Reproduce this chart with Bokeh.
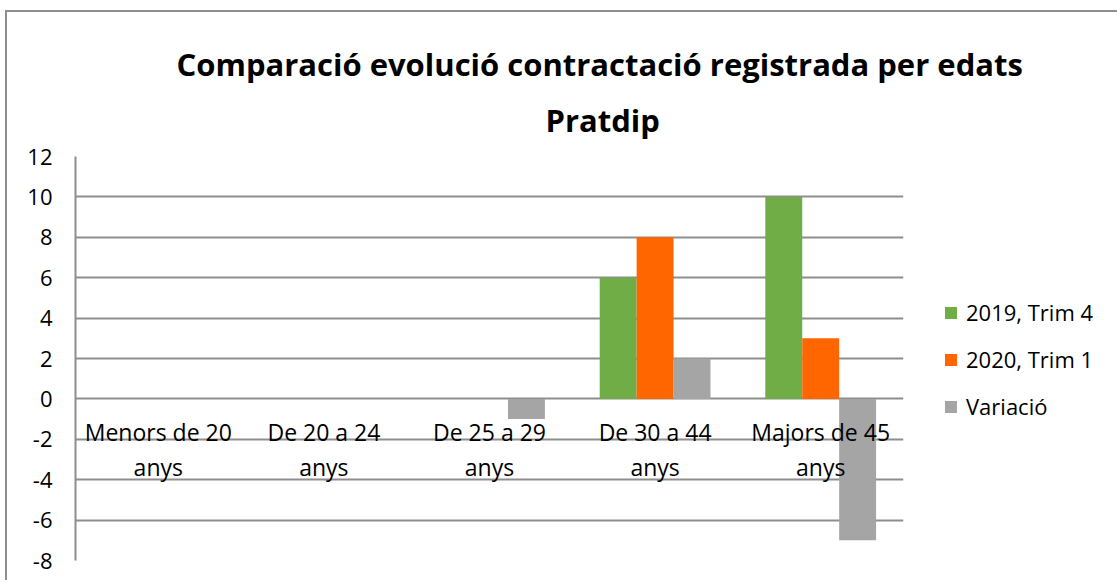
from bokeh.plotting import figure
from bokeh.models import (ColumnDataSource, FactorRange, Legend, LegendItem, Range1d,
                          FixedTicker, PrintfTickFormatter, Title)
from bokeh.transform import dodge
from bokeh.core.properties import value
from bokeh.embed import file_html
from bokeh.resources import INLINE

categories = ["Menors de 20 anys", "De 20 a 24 anys", "De 25 a 29 anys",
              "De 30 a 44 anys", "Majors de 45 anys"]
category_labels = ["Menors de 20\nanys", "De 20 a 24\nanys", "De 25 a 29\nanys",
                   "De 30 a 44\nanys", "Majors de 45\nanys"]
series_names = ["2019, Trim 4", "2020, Trim 1", "Variació"]
trim4_2019 = [0, 0, 0, 6, 10]
trim1_2020 = [0, 0, 0, 8, 3]
variacio = [0, 0, -1, 2, -7]
y_ticks = [-8, -6, -4, -2, 0, 2, 4, 6, 8, 10, 12]
title_line1 = "Comparació evolució contractació registrada per edats"
title_line2 = "Pratdip"

colors = ["#70AD47", "#FF6600", "#A5A5A5"]
FONT = "Open Sans"
GRID = "#8E8E8E"

src = ColumnDataSource(dict(cat=categories, label=category_labels,
                            s0=trim4_2019, s1=trim1_2020, s2=variacio,
                            zero=[0] * len(categories)))

p = figure(frame_width=828, frame_height=404, x_range=FactorRange(*categories),
           y_range=Range1d(-8, 12), output_backend="svg", toolbar_location=None,
           min_border_left=68, min_border_right=212, min_border_top=144, min_border_bottom=20)

# first title line (top)
p.title.text = title_line1
p.title.align = "left"
p.title.offset = 101
p.title.text_font = FONT
p.title.text_font_size = "31px"
p.title.text_font_style = "bold"
p.title.text_color = "#000000"
p.title.vertical_align = "bottom"
p.title.standoff = 0

# second title line (closest to the plot)
t2 = Title(text=title_line2, align="left", offset=470, text_font=FONT,
           text_font_size="31px", text_font_style="bold", text_color="#000000",
           vertical_align="top", standoff=28)
p.add_layout(t2, "above")

width = 0.223
items = []
for i, (col, name) in enumerate(zip(["s0", "s1", "s2"], series_names)):
    r = p.vbar(x=dodge("cat", (i - 1) * width, range=p.x_range), top=col, bottom=0,
               width=width, source=src, fill_color=colors[i], line_color=None)
    items.append(LegendItem(label=name, renderers=[r]))

p.text(x="cat", y="zero", text="label", source=src, text_align="center",
       text_baseline="middle", y_offset=51, text_font=value(FONT),
       text_font_size="23px", text_color="#000000", text_line_height=1.1)

p.xaxis.visible = False
p.xgrid.grid_line_color = None
p.ygrid.grid_line_color = GRID
p.ygrid.grid_line_width = 2
p.yaxis.ticker = FixedTicker(ticks=y_ticks)
p.ygrid.ticker = FixedTicker(ticks=y_ticks)
p.yaxis.formatter = PrintfTickFormatter(format="%d")
p.yaxis.axis_line_color = GRID
p.yaxis.axis_line_width = 2
p.yaxis.major_tick_line_color = None
p.yaxis.minor_tick_line_color = None
p.yaxis.major_label_standoff = 17
p.yaxis.major_label_text_font = FONT
p.yaxis.major_label_text_font_size = "22px"
p.yaxis.major_label_text_color = "#000000"
p.outline_line_color = None

legend = Legend(items=items, location=(40, 139), glyph_width=15, glyph_height=15,
                label_text_font=FONT, label_text_font_size="22px",
                label_text_color="#000000", spacing=17, border_line_color=None,
                background_fill_alpha=0, margin=0, padding=10, label_standoff=8)
p.add_layout(legend, "right")

p.styles = {"margin": "10px 0 0 5px", "border-top": "2px solid #8E8E8E",
            "border-left": "2px solid #8E8E8E"}

open("out.html", "w").write(file_html(p, INLINE))
